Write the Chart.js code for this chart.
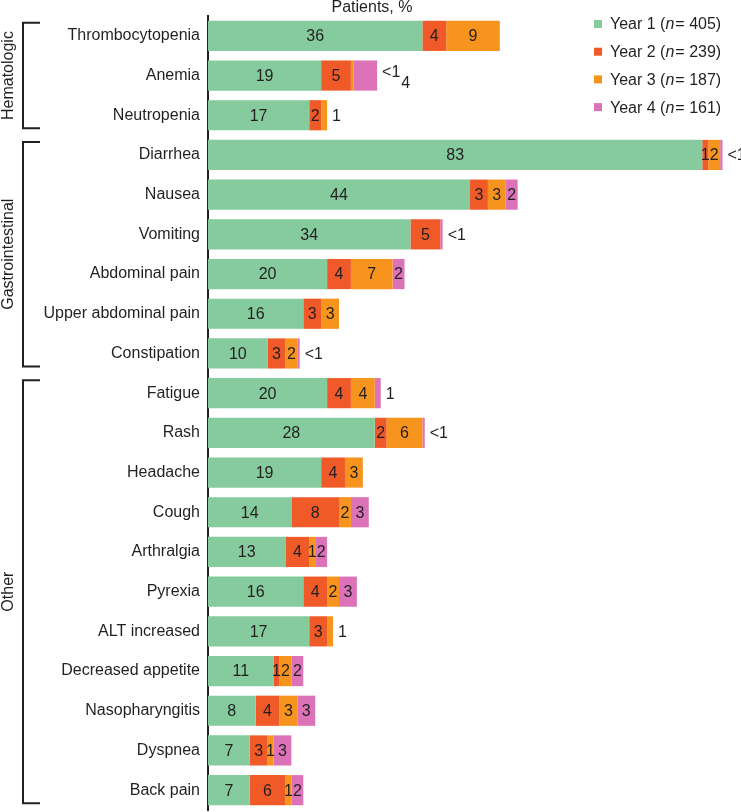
<!DOCTYPE html>
<html>
<head>
<meta charset="utf-8">
<title>Adverse events by year</title>
<script src="https://cdn.jsdelivr.net/npm/chart.js@4.4.1/dist/chart.umd.min.js"></script>
<style>
    html, body { margin: 0; padding: 0; background: #fff; }
    #wrap { width: 741px; height: 812px; }
</style>
</head>
<body>
<div id="wrap"><canvas id="myChart" width="741" height="812"></canvas></div>
<script>
const categories = ['Thrombocytopenia', 'Anemia', 'Neutropenia', 'Diarrhea', 'Nausea', 'Vomiting',
    'Abdominal pain', 'Upper abdominal pain', 'Constipation', 'Fatigue', 'Rash', 'Headache', 'Cough',
    'Arthralgia', 'Pyrexia', 'ALT increased', 'Decreased appetite', 'Nasopharyngitis', 'Dyspnea', 'Back pain'];
// values below 1 are shown as "<1"
const year1 = [36, 19, 17, 83, 44, 34, 20, 16, 10, 20, 28, 19, 14, 13, 16, 17, 11, 8, 7, 7];
const year2 = [4, 5, 2, 1, 3, 5, 4, 3, 3, 4, 2, 4, 8, 4, 4, 3, 1, 4, 3, 6];
const year3 = [9, 0.4, 1, 2, 3, null, 7, 3, 2, 4, 6, 3, 2, 1, 2, 1, 2, 3, 1, 1];
const year4 = [null, 4, null, 0.4, 2, 0.4, 2, null, 0.4, 1, 0.4, null, 3, 2, 3, null, 2, 3, 3, 2];

const seriesLabels = ['Year 1', 'Year 2', 'Year 3', 'Year 4'];
const seriesN = [405, 239, 187, 161];
const seriesColors = ['#85cb9e', '#ef5a28', '#f7941e', '#dc73b9'];

const groupNames = ['Hematologic', 'Gastrointestinal', 'Other'];
const groupFirst = [0, 3, 9];
const groupLast = [2, 8, 19];

const axisTitle = 'Patients, %';
const textColor = '#231f20';
const fontFamily = "'Liberation Sans', Arial, Helvetica, sans-serif";

function valueText(v) {
    return v < 1 ? '<1' : String(v);
}

// numbers inside the segments, small last ones go outside the bar
const segmentLabels = {
    id: 'segmentLabels',
    afterDatasetsDraw(chart) {
        const ctx = chart.ctx;
        ctx.save();
        ctx.font = '16px ' + fontFamily;
        ctx.fillStyle = textColor;
        ctx.textBaseline = 'middle';
        for (let row = 0; row < categories.length; row++) {
            const segs = [];
            chart.data.datasets.forEach((ds, i) => {
                const v = ds.data[row];
                if (v == null) return;
                segs.push({ v: v, bar: chart.getDatasetMeta(i).data[row] });
            });
            const outside = [];
            let pushOut = false;
            segs.forEach((s, k) => {
                const last = k === segs.length - 1;
                if (pushOut || s.v < 1 || (last && s.v <= 1)) {
                    outside.push(s);
                    pushOut = true;
                } else {
                    ctx.textAlign = 'center';
                    ctx.fillText(valueText(s.v), (s.bar.base + s.bar.x) / 2, s.bar.y + 1);
                }
            });
            if (outside.length == 0) continue;
            let x = segs[segs.length - 1].bar.x + 5;
            const y = segs[0].bar.y + 1;
            ctx.textAlign = 'left';
            outside.forEach((s, k) => {
                const dy = outside.length > 1 ? (k == 0 ? -4 : 7) : 0;
                ctx.fillText(valueText(s.v), x, y + dy);
                x += ctx.measureText(valueText(s.v)).width + 1;
            });
        }
        ctx.restore();
    }
};

// legend, title and group brackets
const decorations = {
    id: 'decorations',
    afterDraw(chart) {
        const ctx = chart.ctx;
        const yScale = chart.scales.y;
        ctx.save();
        ctx.fillStyle = textColor;
        ctx.textBaseline = 'middle';

        ctx.font = '16px ' + fontFamily;
        ctx.textAlign = 'center';
        ctx.fillText(axisTitle, 372, 8);

        chart.data.datasets.forEach((ds, i) => {
            const y = 24 + i * 27.7;
            ctx.fillStyle = ds.backgroundColor;
            ctx.fillRect(594, y - 4, 8, 8);
            ctx.fillStyle = textColor;
            ctx.textAlign = 'left';
            let x = 610;
            const head = seriesLabels[i] + ' (';
            ctx.font = '16px ' + fontFamily;
            ctx.fillText(head, x, y + 1);
            x += ctx.measureText(head).width;
            ctx.font = 'italic 16px ' + fontFamily;
            ctx.fillText('n', x, y + 1);
            x += ctx.measureText('n').width + 1;
            ctx.font = '16px ' + fontFamily;
            ctx.fillText('= ' + seriesN[i] + ')', x, y + 1);
        });

        ctx.strokeStyle = textColor;
        ctx.lineWidth = 2;
        for (let g = 0; g < groupNames.length; g++) {
            const top = yScale.getPixelForValue(groupFirst[g]) - 13;
            const bottom = yScale.getPixelForValue(groupLast[g]) + 13;
            ctx.beginPath();
            ctx.moveTo(40, top);
            ctx.lineTo(23, top);
            ctx.lineTo(23, bottom);
            ctx.lineTo(40, bottom);
            ctx.stroke();

            ctx.save();
            ctx.translate(8, (yScale.getPixelForValue(groupFirst[g]) + yScale.getPixelForValue(groupLast[g])) / 2);
            ctx.rotate(-Math.PI / 2);
            ctx.textAlign = 'center';
            ctx.font = '16px ' + fontFamily;
            ctx.fillText(groupNames[g], 0, 1);
            ctx.restore();
        }
        ctx.restore();
    }
};

const seriesValues = [year1, year2, year3, year4];

const data = {
    labels: categories,
    datasets: seriesValues.map((values, i) => ({
        label: seriesLabels[i] + ' (n = ' + seriesN[i] + ')',
        data: values,
        backgroundColor: seriesColors[i],
        borderWidth: 0,
        barPercentage: 0.76,
        categoryPercentage: 1
    }))
};

const config = {
    type: 'bar',
    data: data,
    options: {
        indexAxis: 'y',
        responsive: false,
        animation: false,
        layout: { padding: { top: 16, bottom: 2, right: 3, left: 0 } },
        plugins: {
            legend: { display: false },
            tooltip: { enabled: false }
        },
        scales: {
            x: {
                stacked: true,
                display: false,
                min: 0,
                max: 89
            },
            y: {
                stacked: true,
                afterFit: scale => {
                    scale.width = 208;
                    scale.paddingTop = 0;
                    scale.paddingBottom = 0;
                },
                grid: { display: false, drawTicks: false },
                border: { display: true, color: textColor, width: 2 },
                ticks: {
                    padding: 8,
                    color: textColor,
                    font: { family: fontFamily, size: 16 }
                }
            }
        }
    },
    plugins: [segmentLabels, decorations]
};

var myChart = new Chart(document.getElementById('myChart'), config);
</script>
</body>
</html>
